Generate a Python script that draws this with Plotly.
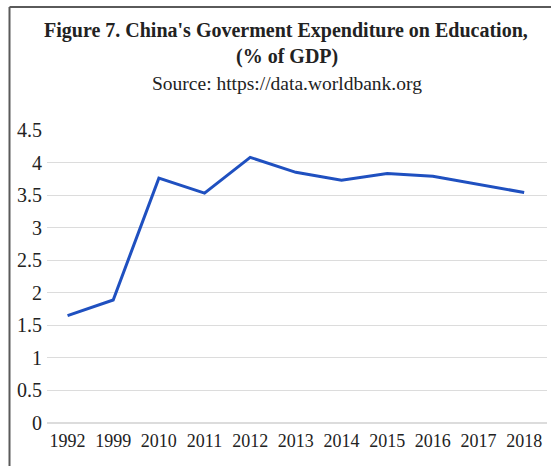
import plotly.graph_objects as go

# Government expenditure on education, China (% of GDP)
years = ["1992", "1999", "2010", "2011", "2012", "2013", "2014", "2015", "2016", "2017", "2018"]
spending = [1.65, 1.89, 3.76, 3.53, 4.08, 3.85, 3.73, 3.83, 3.79, 3.66, 3.54]
y_ticks = [0, 0.5, 1, 1.5, 2, 2.5, 3, 3.5, 4, 4.5]
y_tick_text = ["0", "0.5", "1", "1.5", "2", "2.5", "3", "3.5", "4", "4.5"]

W, H = 551, 466
L, R, T, B = 47, 4, 130, 43
pw, ph = W - L - R, H - T - B

def px_x(x):
    return (x - L) / pw

def px_y(y):
    return (H - B - y) / ph

serif = "Liberation Serif, Times New Roman, serif"

fig = go.Figure(
    go.Scatter(
        x=years,
        y=spending,
        mode="lines",
        line=dict(color="#1f50c0", width=3),
        hoverinfo="x+y",
    )
)

fig.update_layout(
    width=W,
    height=H,
    margin=dict(l=L, r=R, t=T, b=B),
    paper_bgcolor="white",
    plot_bgcolor="white",
    showlegend=False,
    font=dict(family=serif, color="#222"),
    xaxis=dict(
        type="category",
        range=[-0.45, 10.5],
        showgrid=False,
        showline=False,
        zeroline=False,
        ticks="",
        ticklabelstandoff=5,
        tickfont=dict(size=18, family=serif, color="#222"),
    ),
    yaxis=dict(
        range=[0, 4.5],
        tickvals=y_ticks,
        ticktext=y_tick_text,
        showgrid=True,
        gridcolor="#dcdcdc",
        gridwidth=1,
        zeroline=True,
        zerolinecolor="#dcdcdc",
        zerolinewidth=1.5,
        showline=False,
        ticks="",
        ticklabelstandoff=4,
        tickfont=dict(size=20, family=serif, color="#222"),
    ),
    shapes=[
        # frame: left and top rules
        dict(type="line", xref="paper", yref="paper",
             x0=px_x(9.5), x1=px_x(9.5), y0=px_y(7), y1=px_y(H + 5),
             line=dict(color="#5a5a5a", width=2)),
        dict(type="line", xref="paper", yref="paper",
             x0=px_x(9.5), x1=px_x(W + 5), y0=px_y(7), y1=px_y(7),
             line=dict(color="#5a5a5a", width=2)),
    ],
    annotations=[
        dict(text="<b>Figure 7. China's Goverment Expenditure on Education,</b>",
             xref="paper", yref="paper", x=px_x(286), y=px_y(30),
             xanchor="center", yanchor="middle", showarrow=False,
             font=dict(size=20, family=serif, color="#222")),
        dict(text="<b>(% of GDP)</b>",
             xref="paper", yref="paper", x=px_x(287), y=px_y(56),
             xanchor="center", yanchor="middle", showarrow=False,
             font=dict(size=20, family=serif, color="#222")),
        dict(text="Source: https://data.worldbank.org",
             xref="paper", yref="paper", x=px_x(287), y=px_y(83),
             xanchor="center", yanchor="middle", showarrow=False,
             font=dict(size=19.5, family=serif, color="#222")),
    ],
)

fig.write_html("out.html")
